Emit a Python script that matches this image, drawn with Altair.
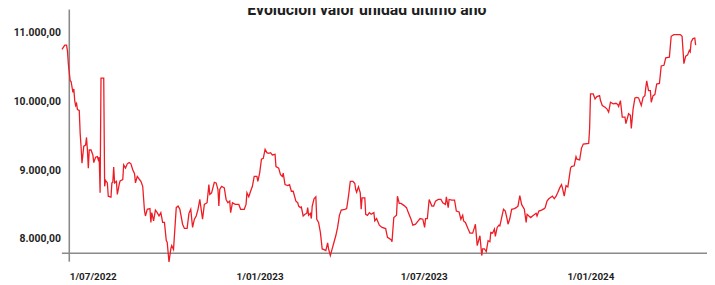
import altair as alt
import pandas as pd

dates = [
    "2022-06-23", "2022-06-26", "2022-06-28", "2022-06-29", "2022-06-30", "2022-07-02", "2022-07-03", "2022-07-05",
    "2022-07-06", "2022-07-07", "2022-07-08", "2022-07-09", "2022-07-10", "2022-07-12", "2022-07-13", "2022-07-14",
    "2022-07-15", "2022-07-17", "2022-07-19", "2022-07-20", "2022-07-21", "2022-07-22", "2022-07-23", "2022-07-25",
    "2022-07-27", "2022-07-28", "2022-07-30", "2022-08-01", "2022-08-02", "2022-08-03", "2022-08-04", "2022-08-05",
    "2022-08-08", "2022-08-09", "2022-08-10", "2022-08-12", "2022-08-13", "2022-08-16", "2022-08-17", "2022-08-18",
    "2022-08-19", "2022-08-20", "2022-08-22", "2022-08-23", "2022-08-25", "2022-08-26", "2022-08-29", "2022-08-30",
    "2022-09-01", "2022-09-03", "2022-09-05", "2022-09-07", "2022-09-09", "2022-09-11", "2022-09-12", "2022-09-14",
    "2022-09-16", "2022-09-18", "2022-09-20", "2022-09-22", "2022-09-23", "2022-09-25", "2022-09-28", "2022-09-29",
    "2022-09-30", "2022-10-02", "2022-10-04", "2022-10-06", "2022-10-08", "2022-10-10", "2022-10-12", "2022-10-14",
    "2022-10-16", "2022-10-17", "2022-10-19", "2022-10-21", "2022-10-22", "2022-10-24", "2022-10-27", "2022-10-29",
    "2022-10-31", "2022-11-03", "2022-11-05", "2022-11-08", "2022-11-10", "2022-11-12", "2022-11-14", "2022-11-16",
    "2022-11-18", "2022-11-20", "2022-11-22", "2022-11-25", "2022-11-27", "2022-11-30", "2022-12-02", "2022-12-03",
    "2022-12-05", "2022-12-08", "2022-12-10", "2022-12-12", "2022-12-13", "2022-12-14", "2022-12-16", "2022-12-19",
    "2022-12-21", "2022-12-23", "2022-12-25", "2022-12-26", "2022-12-28", "2022-12-31", "2023-01-04", "2023-01-06",
    "2023-01-10", "2023-01-12", "2023-01-13", "2023-01-15", "2023-01-17", "2023-01-19", "2023-01-21", "2023-01-24",
    "2023-01-25", "2023-01-27", "2023-01-29", "2023-01-31", "2023-02-02", "2023-02-04", "2023-02-06", "2023-02-08",
    "2023-02-10", "2023-02-13", "2023-02-14", "2023-02-17", "2023-02-19", "2023-02-21", "2023-02-22", "2023-02-24",
    "2023-02-27", "2023-03-01", "2023-03-03", "2023-03-05", "2023-03-08", "2023-03-10", "2023-03-11", "2023-03-13",
    "2023-03-14", "2023-03-16", "2023-03-18", "2023-03-20", "2023-03-21", "2023-03-22", "2023-03-24", "2023-03-25",
    "2023-03-26", "2023-03-28", "2023-03-30", "2023-03-31", "2023-04-02", "2023-04-04", "2023-04-06", "2023-04-08",
    "2023-04-10", "2023-04-12", "2023-04-13", "2023-04-15", "2023-04-17", "2023-04-19", "2023-04-21", "2023-04-23",
    "2023-04-25", "2023-04-27", "2023-05-01", "2023-05-03", "2023-05-05", "2023-05-07", "2023-05-10", "2023-05-12",
    "2023-05-13", "2023-05-14", "2023-05-16", "2023-05-18", "2023-05-19", "2023-05-20", "2023-05-23", "2023-05-24",
    "2023-05-26", "2023-05-28", "2023-05-30", "2023-06-02", "2023-06-03", "2023-06-05", "2023-06-08", "2023-06-11",
    "2023-06-15", "2023-06-17", "2023-06-21", "2023-06-22", "2023-06-24", "2023-06-27", "2023-06-28", "2023-06-30",
    "2023-07-02", "2023-07-05", "2023-07-08", "2023-07-10", "2023-07-13", "2023-07-15", "2023-07-18", "2023-07-20",
    "2023-07-23", "2023-07-26", "2023-07-28", "2023-07-29", "2023-07-31", "2023-08-02", "2023-08-05", "2023-08-07",
    "2023-08-09", "2023-08-12", "2023-08-15", "2023-08-17", "2023-08-20", "2023-08-21", "2023-08-23", "2023-08-24",
    "2023-08-27", "2023-08-30", "2023-09-01", "2023-09-04", "2023-09-06", "2023-09-08", "2023-09-09", "2023-09-11",
    "2023-09-14", "2023-09-16", "2023-09-19", "2023-09-21", "2023-09-22", "2023-09-24", "2023-09-25", "2023-09-27",
    "2023-09-29", "2023-09-30", "2023-10-02", "2023-10-04", "2023-10-06", "2023-10-08", "2023-10-09", "2023-10-11",
    "2023-10-13", "2023-10-14", "2023-10-16", "2023-10-18", "2023-10-19", "2023-10-22", "2023-10-23", "2023-10-25",
    "2023-10-27", "2023-10-28", "2023-10-30", "2023-11-01", "2023-11-04", "2023-11-06", "2023-11-08", "2023-11-10",
    "2023-11-12", "2023-11-13", "2023-11-15", "2023-11-17", "2023-11-18", "2023-11-20", "2023-11-22", "2023-11-24",
    "2023-11-28", "2023-11-29", "2023-12-01", "2023-12-04", "2023-12-07", "2023-12-08", "2023-12-10", "2023-12-12",
    "2023-12-15", "2023-12-16", "2023-12-18", "2023-12-20", "2023-12-22", "2023-12-24", "2023-12-26", "2023-12-27",
    "2023-12-29", "2023-12-31", "2024-01-02", "2024-01-05", "2024-01-06", "2024-01-09", "2024-01-11", "2024-01-12",
    "2024-01-15", "2024-01-17", "2024-01-19", "2024-01-25", "2024-01-26", "2024-01-27", "2024-01-30", "2024-02-01",
    "2024-02-03", "2024-02-06", "2024-02-07", "2024-02-09", "2024-02-12", "2024-02-14", "2024-02-16", "2024-02-18",
    "2024-02-21", "2024-02-24", "2024-02-26", "2024-02-27", "2024-02-29", "2024-03-02", "2024-03-05", "2024-03-06",
    "2024-03-07", "2024-03-09", "2024-03-11", "2024-03-12", "2024-03-14", "2024-03-16", "2024-03-18", "2024-03-20",
    "2024-03-23", "2024-03-25", "2024-03-27", "2024-03-28", "2024-03-29", "2024-03-31", "2024-04-02", "2024-04-03",
    "2024-04-05", "2024-04-07", "2024-04-09", "2024-04-12", "2024-04-14", "2024-04-17", "2024-04-19", "2024-04-23",
    "2024-04-25", "2024-04-28", "2024-05-05", "2024-05-07", "2024-05-09", "2024-05-11", "2024-05-13", "2024-05-15",
    "2024-05-16", "2024-05-17", "2024-05-19", "2024-05-21", "2024-05-22",
]

values = [
    10751, 10813, 10813, 10727, 10536, 10296, 10286, 10128,
    10177, 10009, 9937, 9966, 9880, 9866, 9535, 9339,
    9101, 9349, 9363, 9474, 9292, 9029, 9292, 9292,
    9220, 9109, 9187, 9195, 9148, 9187, 8670, 10335,
    10335, 8765, 8851, 8814, 8621, 8607, 8814, 8822,
    9043, 8814, 8837, 8646, 8789, 8842, 8861, 9076,
    9029, 9091, 9109, 9091, 9005, 8947, 8814, 8908,
    8871, 8837, 8765, 8406, 8334, 8431, 8441, 8240,
    8383, 8263, 8420, 8383, 8334, 8383, 8240, 8240,
    7976, 7953, 7666, 7856, 7904, 7849, 8455, 8478,
    8431, 8215, 8154, 8154, 8373, 8431, 8168, 8287,
    8334, 8431, 8574, 8287, 8502, 8527, 8789, 8646,
    8670, 8822, 8814, 8718, 8478, 8718, 8765, 8742,
    8574, 8527, 8550, 8383, 8527, 8502, 8502, 8431,
    8431, 8502, 8670, 8613, 8693, 8765, 8908, 8908,
    8837, 8957, 9158, 9172, 9302, 9253, 9244, 9253,
    9220, 9230, 9052, 9029, 8933, 8908, 8957, 8789,
    8775, 8789, 8693, 8693, 8550, 8527, 8478, 8455,
    8464, 8334, 8359, 8373, 8455, 8344, 8373, 8297,
    8478, 8584, 8613, 8287, 8240, 8096, 7856, 7846,
    7832, 7943, 7856, 7760, 7856, 7953, 8047, 8168,
    8344, 8420, 8431, 8441, 8621, 8837, 8837, 8804,
    8718, 8679, 8756, 8670, 8431, 8598, 8598, 8359,
    8344, 8383, 8359, 8383, 8263, 8297, 8201, 8168,
    8151, 8024, 7990, 7961, 8311, 8344, 8621, 8517,
    8517, 8488, 8455, 8383, 8287, 8201, 8215, 8248,
    8297, 8287, 8168, 8297, 8297, 8574, 8478, 8478,
    8550, 8574, 8574, 8527, 8502, 8613, 8455, 8574,
    8564, 8564, 8406, 8392, 8287, 8344, 8263, 8240,
    8144, 8086, 8086, 8168, 8215, 7904, 7953, 8047,
    7760, 7856, 7856, 7818, 7976, 7961, 8096, 8086,
    8144, 8039, 8168, 8201, 8191, 8373, 8431, 8406,
    8287, 8215, 8297, 8431, 8441, 8455, 8478, 8631,
    8502, 8478, 8431, 8240, 8359, 8334, 8311, 8334,
    8373, 8334, 8406, 8420, 8441, 8455, 8550, 8584,
    8613, 8621, 8584, 8621, 8679, 8742, 8789, 8742,
    8621, 8775, 8756, 9029, 9052, 9062, 9195, 9158,
    9148, 9316, 9378, 9388, 9603, 10105, 10105, 10033,
    10066, 10081, 10009, 9937, 9913, 9890, 9841, 9985,
    9962, 9970, 9952, 9923, 10009, 9769, 9769, 9675,
    9722, 9818, 9794, 9603, 9890, 10048, 10056, 10048,
    9937, 10056, 10081, 10200, 10296, 10153, 10153, 9985,
    10081, 10095, 10249, 10257, 10511, 10521, 10630, 10640,
    10942, 10966, 10966, 10942, 10544, 10655, 10669, 10737,
    10716, 10860, 10909, 10917, 10813,
]

y_ticks = [8000, 9000, 10000, 11000]
title_text = "Evolución valor unidad último año"
divider_date = "2022-07-01"

FONT = "Roboto, Liberation Sans, sans-serif"
RED = "#ee1c25"
GREY = "#8a8a8a"
TEXT = "#1e1e1e"

df = pd.DataFrame({"fecha": dates, "valor": values})

x_scale = alt.Scale(
    type="utc",
    domain=[
        alt.DateTime(year=2022, month=6, date=22, hours=7, utc=True),
        alt.DateTime(year=2024, month=6, date=3, hours=12, utc=True),
    ],
)
y_scale = alt.Scale(domain=[7800, 11330], nice=False, zero=False)

x_axis = alt.Axis(
    title=None,
    values=[
        alt.DateTime(year=2022, month=7, date=1, utc=True),
        alt.DateTime(year=2023, month=1, date=1, utc=True),
        alt.DateTime(year=2023, month=7, date=1, utc=True),
        alt.DateTime(year=2024, month=1, date=1, utc=True),
    ],
    labelExpr="utcFormat(datum.value, '%-d/%m/%Y')",
    labelAlign="left",
    labelBaseline="top",
    labelPadding=19,
    ticks=False,
    tickSize=0,
    grid=False,
    domain=True,
    domainColor=GREY,
    domainWidth=1.6,
    labelFont=FONT,
    labelFontSize=10,
    labelFontWeight="bold",
    labelColor=TEXT,
    labelOverlap=False,
    labelFlush=False,
)

y_axis = alt.Axis(
    title=None,
    values=y_ticks,
    labelExpr="replace(replace(replace(format(datum.value, ',.2f'), ',', '_'), '.', ','), '_', '.')",
    ticks=False,
    tickSize=0,
    grid=False,
    domain=False,
    labelPadding=1,
    labelFont=FONT,
    labelFontSize=10.5,
    labelFontWeight="bold",
    labelColor=TEXT,
)

line = alt.Chart(df).mark_line(color=RED, strokeWidth=1.3, interpolate="linear").encode(
    x=alt.X("fecha:T", scale=x_scale, axis=x_axis),
    y=alt.Y("valor:Q", scale=y_scale, axis=y_axis),
)

divider = alt.Chart(pd.DataFrame({"fecha": [divider_date]})).mark_rule(
    color=GREY, strokeWidth=1.6
).encode(
    x=alt.X("fecha:T", scale=x_scale),
    y=alt.value(0),
    y2=alt.value(255),
)

title = alt.Chart(pd.DataFrame({"t": [title_text]})).mark_text(
    font=FONT, fontSize=16, fontWeight="bold", color=TEXT, align="center", baseline="alphabetic"
).encode(
    text="t:N",
    x=alt.value(309),
    y=alt.value(5),
)

chart = alt.layer(divider, line, title).properties(
    width=653,
    height=246,
    autosize=alt.AutoSizeParams(type="none"),
    padding={"left": 54, "top": 0, "right": 0, "bottom": 31},
).configure_view(stroke=None)

chart.save("out.html", embed_options={"renderer": "svg", "actions": False})
